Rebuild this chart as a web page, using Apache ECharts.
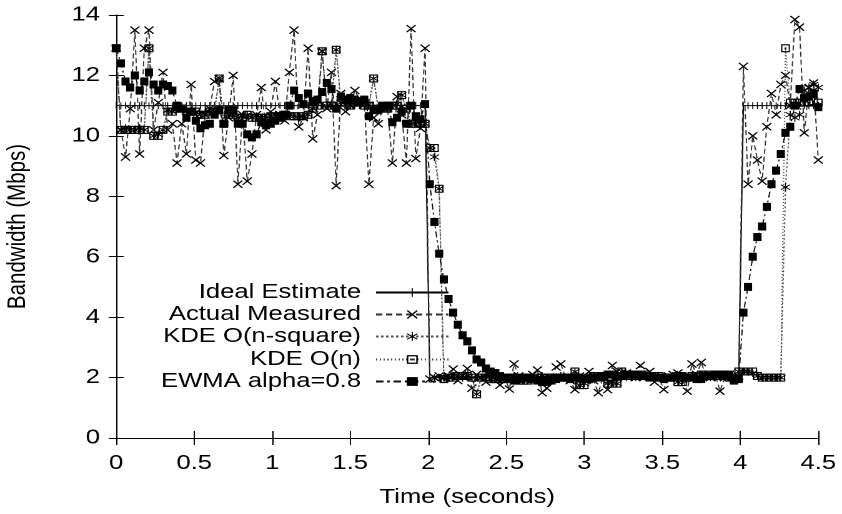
<!DOCTYPE html>
<html>
<head>
<meta charset="utf-8">
<script src="https://cdn.jsdelivr.net/npm/echarts@6/dist/echarts.min.js"></script>
<style>
html,body{margin:0;padding:0;background:#fff;overflow:hidden}
#c{width:674px;height:514px;transform:scaleX(1.24926);transform-origin:0 0}
</style>
</head>
<body>
<div id="c"></div>
<script>
// sample times (seconds)
const time = [
0,0.03,0.06,0.09,0.12,0.15,0.18,0.21,0.24,0.27,
0.30,0.33,0.36,0.39,0.42,0.45,0.48,0.51,0.54,0.57,
0.60,0.63,0.66,0.69,0.72,0.75,0.78,0.81,0.84,0.87,
0.90,0.93,0.96,0.99,1.02,1.05,1.08,1.11,1.14,1.17,
1.20,1.23,1.26,1.29,1.32,1.35,1.38,1.41,1.44,1.47,
1.50,1.53,1.56,1.59,1.62,1.65,1.68,1.71,1.74,1.77,
1.80,1.83,1.86,1.89,1.92,1.95,1.98,2.01,2.04,2.07,
2.10,2.13,2.16,2.19,2.22,2.25,2.28,2.31,2.34,2.37,
2.40,2.43,2.46,2.49,2.52,2.55,2.58,2.61,2.64,2.67,
2.70,2.73,2.76,2.79,2.82,2.85,2.88,2.91,2.94,2.97,
3.00,3.03,3.06,3.09,3.12,3.15,3.18,3.21,3.24,3.27,
3.30,3.33,3.36,3.39,3.42,3.45,3.48,3.51,3.54,3.57,
3.60,3.63,3.66,3.69,3.72,3.75,3.78,3.81,3.84,3.87,
3.90,3.93,3.96,3.99,4.02,4.05,4.08,4.11,4.14,4.17,
4.20,4.23,4.26,4.29,4.32,4.35,4.38,4.41,4.44,4.47,
4.50];

const idealEstimate = [
11,11,11,11,11,11,11,11,11,11,
11,11,11,11,11,11,11,11,11,11,
11,11,11,11,11,11,11,11,11,11,
11,11,11,11,11,11,11,11,11,11,
11,11,11,11,11,11,11,11,11,11,
11,11,11,11,11,11,11,11,11,11,
11,11,11,11,11,11,11,2,2,2,
2,2,2,2,2,2,2,2,2,2,
2,2,2,2,2,2,2,2,2,2,
2,2,2,2,2,2,2,2,2,2,
2,2,2,2,2,2,2,2,2,2,
2,2,2,2,2,2,2,2,2,2,
2,2,2,2,2,2,2,2,2,2,
2,2,2,2,11,11,11,11,11,11,
11,11,11,11,11,11,11,11,11,11,
11];

const actualMeasured = [
12.9,10.2,9.3,10.9,13.5,9.4,12.9,13.5,10.2,11.1,
12.1,10.2,10.4,9.1,10.4,9.4,11.7,9.2,9.1,10.7,
10.9,11.8,11.9,9.35,10.6,12.0,8.4,10.7,8.5,9.4,
10.7,11.6,10.2,10.8,11.8,10.7,10.5,12.1,13.5,10.3,
10.6,12.9,9.9,10.7,12.8,10.9,12.1,8.35,11.4,10.8,
11.0,11.5,11.2,11.1,8.4,10.6,10.4,11.0,10.9,9.1,
11.3,10.7,9.1,13.55,9.25,10.25,12.9,1.95,2.0,2.05,
2.0,2.05,2.28,1.9,2.05,2.3,1.65,2.1,2.0,1.85,
2.1,1.95,1.75,2.0,1.62,2.45,2.05,2.0,1.95,2.1,
2.25,1.5,1.65,2.0,2.35,2.45,2.0,1.9,1.6,2.05,
1.95,2.2,1.9,1.5,2.0,1.6,2.4,2.2,2.05,2.15,
2.1,2.0,2.4,2.05,2.2,1.85,2.0,1.6,2.05,2.1,
2.15,1.95,1.55,2.45,2.1,2.5,2.05,2.0,2.1,1.55,
2.0,2.1,2.0,2.05,12.3,8.4,10.0,9.2,8.5,10.3,
11.4,10.7,11.7,12.0,11.0,13.85,13.6,10.1,11.6,11.75,
9.2];

const kdeNSquare = [
12.9,10.2,10.25,10.2,10.2,10.25,10.2,12.9,10.0,10.05,
10.2,10.85,10.8,10.9,10.95,10.8,10.85,10.8,10.7,10.75,
10.8,10.85,11.85,10.4,10.7,10.75,10.6,10.65,10.7,10.6,
10.65,10.6,10.6,10.65,10.7,10.65,10.7,10.7,10.65,10.6,
10.65,10.7,10.9,11.05,12.8,11.0,11.05,12.85,11.1,11.15,
11.0,11.1,11.15,11.0,11.05,11.9,10.9,10.95,10.9,11.0,
11.05,11.35,10.9,10.4,10.45,10.4,10.4,9.6,9.3,8.25,
2.0,2.0,2.05,2.05,2.0,2.05,2.0,1.45,2.0,2.05,
1.95,2.0,1.95,1.95,2.0,2.05,1.9,1.9,1.95,1.95,
2.0,2.05,2.0,2.0,2.0,2.05,2.0,2.0,2.2,1.75,
1.8,2.0,2.05,2.05,2.0,1.8,1.85,1.8,2.2,2.05,
2.05,2.1,2.1,2.1,2.05,2.05,2.0,2.0,2.0,2.05,
1.85,1.9,2.0,2.05,2.05,2.1,2.1,2.05,2.05,2.05,
2.05,2.0,1.95,2.2,2.2,2.2,2.15,2.05,2.0,2.0,
2.0,2.0,2.0,8.3,10.7,10.6,10.7,11.5,11.6,11.7,
11.6];

const kdeN = [
12.9,10.2,10.2,10.2,10.2,10.2,10.2,12.9,10.0,10.0,
10.2,10.8,10.8,10.9,10.9,10.8,10.8,10.8,10.7,10.7,
10.8,10.8,11.9,10.4,10.7,10.7,10.6,10.6,10.7,10.6,
10.6,10.6,10.6,10.65,10.65,10.65,10.7,10.65,10.65,10.65,
10.65,10.7,10.9,11.0,12.8,11.0,11.0,12.85,11.1,11.1,
11.0,11.1,11.1,11.0,11.0,11.9,10.9,10.9,10.9,11.0,
11.0,11.35,10.9,10.4,10.4,10.4,10.4,9.6,9.6,8.25,
1.95,2.0,2.0,2.05,2.05,2.05,2.0,1.45,2.0,2.0,
1.95,1.95,1.95,1.95,2.0,2.0,1.9,1.9,1.9,1.95,
2.0,2.0,2.0,2.0,2.0,2.0,2.0,2.0,2.2,1.75,
1.75,2.0,2.05,2.05,2.05,1.8,1.8,1.8,2.2,2.05,
2.05,2.05,2.1,2.1,2.05,2.05,2.05,2.0,2.0,2.0,
1.85,1.85,2.0,2.05,2.05,2.1,2.1,2.1,2.05,2.05,
2.05,2.0,1.95,2.2,2.2,2.2,2.2,2.05,2.0,2.0,
2.0,2.0,2.0,12.9,11.1,11.1,11.1,11.1,11.1,11.15,
11.1];

const ewma = [
12.9,12.4,11.8,11.6,12.0,11.5,11.8,12.1,11.7,11.5,
11.7,11.65,11.5,11.0,10.9,10.6,10.8,10.5,10.25,10.35,
10.4,10.7,10.85,10.4,10.85,10.85,10.4,10.4,10.05,9.95,
10.05,10.45,10.35,10.4,10.5,10.6,10.7,11.0,11.5,11.25,
11.05,11.4,11.15,11.2,11.45,11.75,11.55,10.9,11.3,11.2,
11.25,11.2,11.15,11.2,10.65,10.85,10.85,11.0,11.0,10.45,
10.6,10.8,10.4,11.0,10.65,10.55,11.05,8.4,7.15,6.1,
5.25,4.6,4.15,3.75,3.4,3.2,2.9,2.6,2.5,2.3,
2.2,2.15,2.05,2.0,1.95,1.9,1.95,2.0,2.0,1.95,
1.9,1.85,1.85,1.9,1.95,2.0,2.0,1.95,2.0,2.0,
1.95,1.95,2.0,2.0,2.05,2.1,2.1,2.05,2.05,2.1,
2.1,2.1,2.05,2.05,2.0,2.0,2.0,1.95,2.0,2.0,
2.05,2.05,2.0,2.0,1.95,1.95,2.05,2.05,2.1,2.1,
2.1,2.1,1.9,1.95,4.15,5.0,6.0,6.65,7.0,7.65,
8.4,8.85,9.4,10.1,10.3,11.0,11.55,11.25,11.3,11.4,
10.95];

const seriesNames = ['Ideal Estimate','Actual Measured','KDE O(n-square)','KDE O(n)','EWMA alpha=0.8'];
const xTicks = [0,0.5,1,1.5,2,2.5,3,3.5,4,4.5];
const yTicks = [0,2,4,6,8,10,12,14];

const FONT = 'Liberation Sans';
const FS = 20.5;
const pairs = arr => time.map((t,i)=>[t,arr[i]]);

const SYM_TICK = 'path://M0,0 L0.01,0 L0.01,0.01 Z M4.5,0 L5.5,0 L5.5,10 L4.5,10 Z M9.99,9.99 L10,9.99 L10,10 Z';
const SYM_X = 'path://M0,1 L1,0 L5,4 L9,0 L10,1 L6,5 L10,9 L9,10 L5,6 L1,10 L0,9 L4,5 Z';
const SYM_STAR = 'path://M4.5,0 L5.5,0 L5.5,4 L9,1.5 L9.6,2.3 L6.1,5 L9.6,7.7 L9,8.5 L5.5,6 L5.5,10 L4.5,10 L4.5,6 L1,8.5 L0.4,7.7 L3.9,5 L0.4,2.3 L1,1.5 L4.5,4 Z';
const SYM_BOX = 'path://M0,0 L10,0 L10,10 L0,10 Z M1.4,1.4 L1.4,8.6 L8.6,8.6 L8.6,1.4 Z M4,4 L6,4 L6,6 L4,6 Z';

const styles = [
  {line:{color:'#000',width:1,type:'solid'}, symbol:SYM_TICK, size:[8,7]},
  {line:{color:'#333',width:1,type:[5,3]}, symbol:SYM_X, size:8},
  {line:{color:'#555',width:1,type:[2,2]}, symbol:SYM_STAR, size:8},
  {line:{color:'#444',width:1,type:[1,2]}, symbol:SYM_BOX, size:[7,8]},
  {line:{color:'#111',width:1,type:[6,3,2,3]}, symbol:'rect', size:[6.5,8]}
];
const dataArrays = [idealEstimate, actualMeasured, kdeNSquare, kdeN, ewma];

const series = seriesNames.map((name,k)=>({
  name, type:'line', data: pairs(dataArrays[k]),
  symbol: styles[k].symbol, symbolSize: styles[k].size, showSymbol:true,
  showAllSymbol:true,
  lineStyle: styles[k].line,
  itemStyle: {color:'#000'},
  animation:false, silent:true, z: 2+k
}));

const legendCenters = [288,310,332,355,377];
const legends = seriesNames.map((name,k)=>({
  data:[name], orient:'vertical', align:'right', right:314, top:legendCenters[k]-6,
  itemWidth:58, itemHeight:11, selectedMode:false, padding:0,
  textStyle:{fontFamily:FONT, fontSize:FS, color:'#000', padding:[0,7,0,0]}
}));

const axisLineStyle = {show:true, lineStyle:{color:'#000',width:1}};

const chart = echarts.init(document.getElementById('c'), null, {renderer:'canvas', devicePixelRatio:2});
chart.setOption({
  animation:false,
  backgroundColor:'#fff',
  grid:{left:93,right:19,top:15,bottom:76,containLabel:false,outerBoundsMode:'none'},
  legend: legends,
  xAxis:[
    {type:'value', position:'bottom', min:xTicks[0], max:xTicks[xTicks.length-1], interval:0.5,
      splitLine:{show:false}, axisLine:axisLineStyle,
      axisTick:{show:true, inside:true, length:7, lineStyle:{color:'#000'}},
      name:'Time (seconds)', nameLocation:'middle', nameGap:49, nameMoveOverlap:false,
      nameTextStyle:{fontFamily:FONT,fontSize:FS,color:'#000'},
      axisLabel:{fontFamily:FONT,fontSize:FS,color:'#000',margin:15, formatter:v=>String(v)}},
    {type:'value', position:'top', min:xTicks[0], max:xTicks[xTicks.length-1], interval:0.5,
      splitLine:{show:false}, axisLine:axisLineStyle,
      axisTick:{show:true, inside:true, length:7, lineStyle:{color:'#000'}},
      axisLabel:{show:false}}
  ],
  yAxis:[
    {type:'value', position:'left', min:yTicks[0], max:yTicks[yTicks.length-1], interval:2,
      splitLine:{show:false}, axisLine:axisLineStyle,
      axisTick:{show:true, inside:true, length:6, lineStyle:{color:'#000'}},
      name:'Bandwidth (Mbps)', nameLocation:'middle', nameGap:68, nameMoveOverlap:false,
      nameTextStyle:{fontFamily:FONT,fontSize:FS,color:'#000'},
      axisLabel:{fontFamily:FONT,fontSize:FS,color:'#000',margin:13}},
    {type:'value', position:'right', min:yTicks[0], max:yTicks[yTicks.length-1], interval:2,
      splitLine:{show:false}, axisLine:axisLineStyle,
      axisTick:{show:true, inside:true, length:6, lineStyle:{color:'#000'}},
      axisLabel:{show:false}}
  ],
  series
});
</script>
</body>
</html>
